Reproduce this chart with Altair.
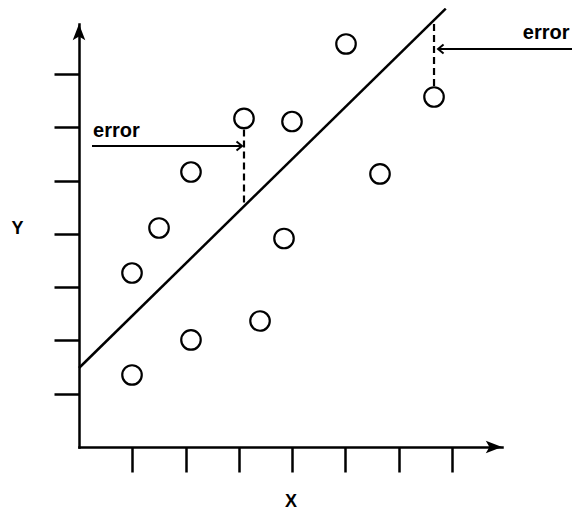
import altair as alt
import pandas as pd

# ---- data ----
point_x = [0.995, 0.995, 1.502, 2.102, 2.102, 3.097, 3.398, 3.848, 3.998, 5.012, 5.650, 6.664]
point_y = [1.352, 3.266, 4.111, 5.162, 2.009, 6.167, 2.365, 3.914, 6.110, 7.565, 5.125, 6.570]

line_x = [0.0, 6.884]
line_y = [1.483, 8.228]

error_idx = [5, 11]          # points whose residual is drawn

arrow_start_x = [0.244, 9.40]
arrow_end_x = [3.06, 6.74]
arrow_y = [5.65, 7.47]

label_text = ["error", "error"]
label_x = [0.263, 8.33]
label_y = [5.923, 7.78]

x_ticks = [1, 2, 3, 4, 5, 6, 7]
y_ticks = [1, 2, 3, 4, 5, 6, 7]
axis_max = 7.94

FONT = "Liberation Sans"

# ---- tables ----
pts = pd.DataFrame({"x": point_x, "y": point_y})
line = pd.DataFrame({"x": line_x, "y": line_y})
slope = (line_y[1] - line_y[0]) / (line_x[1] - line_x[0])
err = pd.DataFrame({
    "x": [point_x[i] for i in error_idx],
    "y": [point_y[i] for i in error_idx],
    "y2": [line_y[0] + slope * (point_x[i] - line_x[0]) for i in error_idx],
})
arrows = pd.DataFrame({"x": arrow_start_x, "x2": arrow_end_x, "y": arrow_y})
heads = pd.DataFrame({
    "x": arrow_end_x,
    "y": arrow_y,
    "path": ["M-1.1,-0.9L0,0L-1.1,0.9", "M1.1,-0.9L0,0L1.1,0.9"],
})
labels = pd.DataFrame({"x": label_x, "y": label_y, "t": label_text})
axis_heads = pd.DataFrame({
    "x": [0, axis_max],
    "y": [axis_max, 0],
    "path": ["M0,0L-0.7,1.8L0,1.4L0.7,1.8Z", "M0,0L-1.8,-0.7L-1.4,0L-1.8,0.7Z"],
})

xs = alt.Scale(domain=[0, axis_max], nice=False, zero=False)
ys = alt.Scale(domain=[0, axis_max], nice=False, zero=False)

x_axis = alt.Axis(values=x_ticks, labels=False, grid=False, tickSize=25, tickWidth=2.5,
                  tickColor="black", domainColor="black", domainWidth=2.5, domainCap="square",
                  title="X", titleFont=FONT, titleFontSize=18, titleFontWeight="bold",
                  titleColor="black", titleX=211.5, titleY=59, titleAlign="center",
                  titleBaseline="alphabetic")
y_axis = alt.Axis(values=y_ticks, labels=False, grid=False, tickSize=25, tickWidth=2.5,
                  tickColor="black", domainColor="black", domainWidth=2.5, domainCap="square",
                  title="Y", titleFont=FONT, titleFontSize=18, titleFontWeight="bold",
                  titleColor="black", titleAngle=0, titleX=-62, titleY=204,
                  titleAlign="center", titleBaseline="middle")

X = alt.X("x:Q", scale=xs, axis=x_axis)
Y = alt.Y("y:Q", scale=ys, axis=y_axis)

reg = alt.Chart(line).mark_line(color="black", strokeWidth=2.5).encode(x=X, y=Y)

dashed = alt.Chart(err).mark_rule(color="black", strokeWidth=2.2, strokeDash=[7, 4]).encode(
    x=X, y=Y, y2="y2:Q",
)

circles = alt.Chart(pts).mark_point(shape="circle", filled=True, fill="white",
                                    stroke="black", strokeWidth=2.2, size=380,
                                    opacity=1).encode(x=X, y=Y)

arrow_lines = alt.Chart(arrows).mark_rule(color="black", strokeWidth=2).encode(
    x=X, x2="x2:Q", y=Y,
)

arrow_heads = alt.Chart(heads).mark_point(filled=False, color="black", strokeWidth=2,
                                          size=100, opacity=1).encode(
    x=X, y=Y, shape=alt.Shape("path:N", scale=None),
)

axis_arrows = alt.Chart(axis_heads).mark_point(filled=True, color="black", size=324,
                                               opacity=1, strokeWidth=0).encode(
    x=X, y=Y, shape=alt.Shape("path:N", scale=None),
)

texts = alt.Chart(labels).mark_text(font=FONT, fontWeight="bold", fontSize=20,
                                    align="left", baseline="middle", color="black").encode(
    x=X, y=Y, text="t:N",
)

chart = alt.layer(reg, dashed, circles, arrow_lines, arrow_heads, axis_arrows, texts).properties(
    width=423, height=423,
    padding={"left": 71, "top": 16, "right": 70, "bottom": 65},
    autosize="none",
    background="white",
).configure_view(stroke=None)

chart.save("out.html", embed_options={"renderer": "svg", "actions": False})
